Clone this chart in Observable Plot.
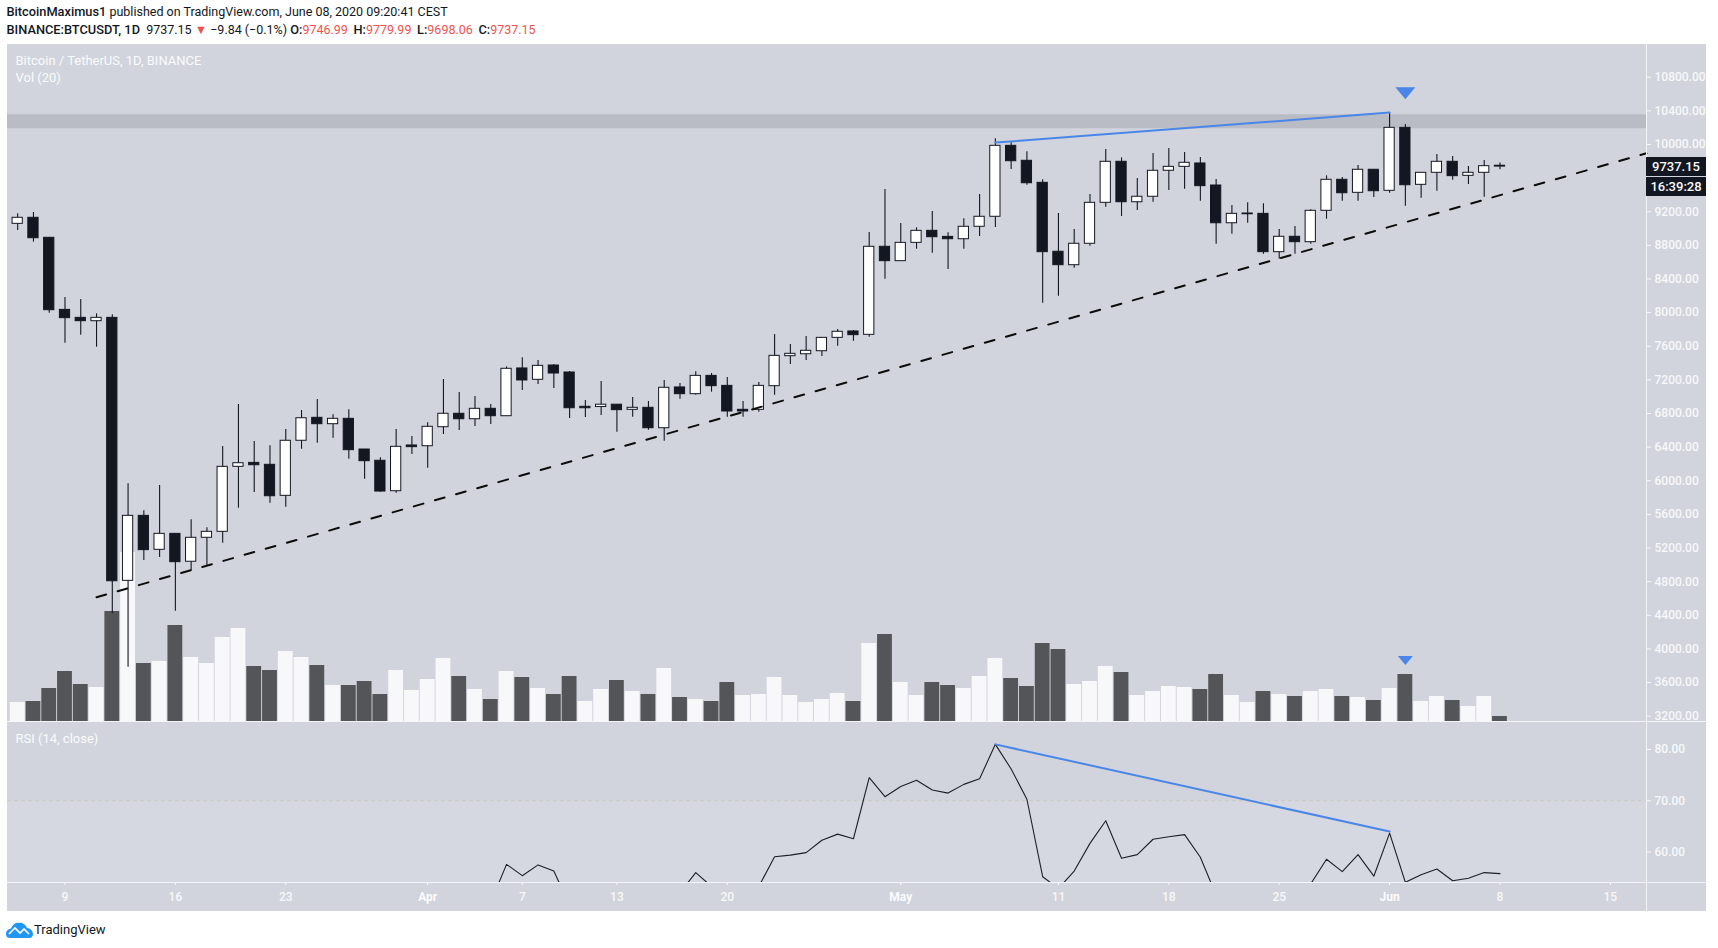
<!DOCTYPE html>
<html>
<head>
<meta charset="utf-8">
<script src="https://cdn.jsdelivr.net/npm/d3@7"></script>
<script src="https://cdn.jsdelivr.net/npm/@observablehq/plot@0.6"></script>
<style>
  html, body { margin: 0; padding: 0; background: #fff; width: 1718px; height: 948px; overflow: hidden; font-family: Roboto, sans-serif; }
  #root { position: relative; width: 1718px; height: 948px; }
  #root > * { position: absolute; }
  #panel { left: 7px; top: 44px; width: 1699px; height: 867px; background: #d1d4dc; }
  .hline { left: 7px; width: 1699px; height: 1.4px; background: #f4f5f8; }
  .vline { left: 1646px; top: 44px; width: 1.4px; height: 867px; background: #f4f5f8; }
  .head { left: 6.5px; font-size: 12.5px; color: #131722; white-space: nowrap; line-height: 16px; }
  .head b { font-weight: 500; font-size: 12.8px; }
  .head b.gap { margin-left: 2.5px; }
  .head i { font-style: normal; color: #ef5350; }
  .pane { left: 15.5px; font-size: 13px; color: #fafbfc; white-space: nowrap; line-height: 16px; }
  .tag { left: 1646px; width: 60px; height: 19px; background: #131722; color: #f8f9fb; font-size: 13px; font-weight: 500; line-height: 19px; text-align: center; }
  #brand { left: 34px; top: 922px; font-size: 13px; color: #131722; line-height: 16px; }
  svg { display: block; }
</style>
</head>
<body>
<div id="root">
  <div id="panel"></div>
  <div class="head" style="top:4px"><b>BitcoinMaximus1</b> published on TradingView.com, June 08, 2020 09:20:41 CEST</div>
  <div class="head" style="top:22px"><b>BINANCE:BTCUSDT, 1D</b>&nbsp; 9737.15 <i>▼</i> −9.84 (−0.1%) <b>O:</b><i>9746.99</i> <b class="gap">H:</b><i>9779.99</i> <b class="gap">L:</b><i>9698.06</i> <b class="gap">C:</b><i>9737.15</i></div>
  <svg id="logo" style="left:6px;top:922px" width="27" height="16" viewBox="0 0 27 16">
    <path d="M0 12 C0 8 3 7 5 6.5 C7 2 10 0 13 1 C16 0 20 3 21 6 C24 6 27 9 27 12 C27 15 25 16 23 16 L4 16 C2 16 0 15 0 12 Z" fill="#2196f3"/>
    <path d="M3 12 L9 6 L14 11 L18 7 L23 12" fill="none" stroke="#fff" stroke-width="1.6"/>
  </svg>
  <div id="brand">TradingView</div>
</div>
<script>
const firstDay = "2020-03-06";
const opens = [9056,9128,8890,8033,7938,7898,7938,4810,5583,5179,5369,5037,5322,5393,6166,6213,6190,5821,6476,6749,6673,6737,6372,6238,5876,6420,
  6411,6637,6797,6732,6856,6768,7336,7201,7371,7288,6880,6877,6905,6844,6868,6625,7110,7030,7248,7129,6844,6844,7125,7482,7505,7541,7700,7776,7736,8783,
  8612,8830,8973,8901,8873,9021,9140,9984,9806,9544,8724,8564,8819,9306,9794,9313,9378,9687,9734,9774,9512,9063,9179,9175,8719,8902,8838,9211,9580,9425,9699,
  9449,10198,9520,9663,9794,9627,9663,9747];
const highs = [9175,9191,8890,8180,8156,7986,7974,5964,5643,5943,5369,5536,5441,6408,6907,6467,6416,6610,6836,6966,6785,6844,6372,6273,6610,6527,
  6689,7204,7050,7002,6907,7355,7463,7430,7383,7300,6955,7181,6905,6990,6943,7193,7157,7296,7276,7228,6943,7169,7740,7621,7716,7700,7799,7787,8953,9464,
  9060,9009,9203,8949,9116,9405,10067,10020,9913,9580,9179,8989,9405,9940,9841,9595,9892,9952,9904,9845,9583,9274,9306,9294,8989,9024,9223,9627,9607,9750,9699,
  10380,10237,9663,9881,9857,9738,9809,9780];
const lows = [8977,8838,7993,7636,7731,7589,4418,3783,5052,5087,4449,4932,4992,5258,5674,5860,5733,5686,6375,6447,6506,6257,6019,5864,5852,6312,
  6150,6550,6598,6645,6669,6768,7074,7145,7097,6740,6752,6776,6578,6756,6601,6471,6970,7018,7054,6756,6756,6816,7018,7383,7430,7478,7601,7660,7708,8397,
  8612,8754,8707,8513,8754,8905,9012,9702,9515,8112,8196,8528,8790,9254,9143,9215,9313,9452,9468,9325,8814,8933,9063,8695,8635,8695,8814,9111,9325,9325,9369,
  9420,9266,9361,9444,9575,9524,9373,9698];
const closes = [9128,8885,8029,7934,7898,7938,4805,5583,5175,5369,5032,5322,5393,6166,6209,6185,5816,6476,6744,6673,6737,6364,6233,5872,6404,6400,
  6642,6797,6732,6856,6768,7332,7193,7367,7276,6863,6863,6905,6840,6868,6625,7106,7030,7248,7125,6824,6824,7129,7486,7510,7546,7700,7772,7732,8783,8612,
  8830,8973,8897,8873,9021,9140,9984,9801,9539,8719,8564,8819,9306,9794,9313,9378,9687,9734,9782,9504,9063,9175,9170,8719,8902,8838,9211,9580,9420,9699,9444,
  10198,9515,9663,9794,9623,9663,9742,9737];
const volumes = [19,20,33,50,37,34,110,169,58,60,96,64,58,84,93,55,51,70,64,56,36,36,40,27,51,31,
  42,63,45,32,22,50,44,33,27,45,20,32,41,30,27,53,24,22,20,39,26,27,44,26,19,22,28,20,78,87,
  39,26,39,36,33,45,63,43,35,78,72,37,40,55,49,26,30,35,34,32,47,26,19,30,27,25,30,32,25,24,21,
  33,47,20,25,21,15,25,5];
const volumeUp = [1,0,0,0,0,1,0,1,0,1,0,1,1,1,1,0,0,1,1,0,1,0,0,0,1,1,
  1,1,0,1,0,1,0,1,0,0,1,1,0,1,0,1,0,1,0,0,1,1,1,1,1,1,1,0,1,0,
  1,1,0,0,1,1,1,0,0,0,0,1,1,1,0,1,1,1,1,0,0,1,1,0,1,0,1,1,0,1,0,
  1,0,1,1,0,1,1,0];
const rsiValues = [null,null,null,null,null,null,null,null,null,null,null,null,null,null,null,null,null,null,null,null,null,null,null,null,null,null,
  null,null,null,null,50.2,57.6,55.4,57.5,56.3,49.6,null,null,null,null,null,null,52.1,56.0,53.3,null,null,53.3,59.1,59.4,59.9,62.3,63.5,62.6,74.5,70.8,
  72.8,74.0,72.1,71.5,73.2,74.3,81.0,76.2,70.3,55.2,52.9,56.3,61.7,66.1,58.8,59.5,62.5,63.0,63.4,59.0,51.6,null,null,null,null,null,53.8,58.6,56.2,59.5,55.3,
  63.7,54.1,55.6,56.7,54.4,54.9,56.0,55.8];
const priceTicks = [3200,3600,4000,4400,4800,5200,5600,6000,6400,6800,7200,7600,8000,8400,8800,9200,10000,10400,10800];
const rsiTicks = [60,70,80];
const dayTicks = ["2020-03-09","2020-03-16","2020-03-23","2020-04-07","2020-04-13","2020-04-20","2020-05-11","2020-05-18","2020-05-25","2020-06-08","2020-06-15"];
const monthTicks = ["2020-04-01","2020-05-01","2020-06-01"];
const resistance = [10187, 10353];
const trendLine = [["2020-03-11T00:00Z",4615],["2020-06-17T07:00Z",9896]];
const priceDivergence = [["2020-05-07",10022],["2020-06-01",10380]];
const rsiDivergence = [["2020-05-07",81.0],["2020-06-01",64.0]];
const lastPrice = 9737.15;
const rsiOverbought = 70;

const DAY = 864e5;
const D = s => new Date(s);
const dates = opens.map((_, i) => new Date(+D(firstDay) + i * DAY));
const candles = dates.map((date, i) => ({date, open: opens[i], high: highs[i], low: lows[i], close: closes[i],
  up: closes[i] >= opens[i], volume: volumes[i], volUp: !!volumeUp[i], rsi: rsiValues[i]}));
const xDomain = [D("2020-03-05T08:30Z"), D("2020-06-17T07:00Z")];
const ink = "#131722", blue = "#4a86e8", chalk = "#f7f8fa";
const font = "Roboto, sans-serif";
const base = {width: 1718, marginLeft: 7, marginRight: 72, marginTop: 0, marginBottom: 0,
  style: {background: "transparent", fontFamily: font, fontSize: "12px", fontWeight: 500, overflow: "visible"}};
const flatDown = {draw(c, s) { const r = Math.sqrt(s / Math.PI); c.moveTo(-r, -0.6 * r); c.lineTo(r, -0.6 * r); c.lineTo(0, 0.6 * r); c.closePath(); }};
const pts = a => a.map(([t, v]) => ({t: D(t), v}));

const volPlot = Plot.plot({...base, height: 677,
  x: {type: "utc", domain: xDomain, axis: null},
  y: {domain: [0, 677], axis: null},
  marks: [
    Plot.rectY(candles, {x1: d => +d.date - 0.47 * DAY, x2: d => +d.date + 0.47 * DAY, y1: 0, y2: "volume",
      fill: d => d.volUp ? "#f8f8fa" : "#545559"}),
    Plot.dot([{t: D("2020-06-02"), v: 61}], {x: "t", y: "v", symbol: flatDown, r: 7.5, fill: blue})
  ]
});

const pricePlot = Plot.plot({...base, height: 677,
  x: {type: "utc", domain: xDomain, axis: null},
  y: {domain: [3137, 11189], axis: null},
  marks: [
    Plot.rect([{}], {y1: resistance[0], y2: resistance[1], fill: "#b9bcc5"}),
    Plot.ruleX(candles, {x: "date", y1: "low", y2: "high", stroke: ink, strokeWidth: 1.1}),
    Plot.rect(candles, {x1: d => +d.date - 0.325 * DAY, x2: d => +d.date + 0.325 * DAY, y1: "open", y2: "close",
      fill: d => d.up ? "#ffffff" : ink, stroke: ink, strokeWidth: 1}),
    Plot.line(pts(trendLine), {x: "t", y: "v", stroke: "#0c0c0c", strokeWidth: 2, strokeDasharray: "10 12"}),
    Plot.line(pts(priceDivergence), {x: "t", y: "v", stroke: blue, strokeWidth: 2}),
    Plot.dot([{t: D("2020-06-02"), v: 10610}], {x: "t", y: "v", symbol: flatDown, r: 10, fill: blue}),
    Plot.axisY({anchor: "right", ticks: priceTicks, tickFormat: d => d.toFixed(2), tickSize: 4, tickPadding: 4, color: chalk, label: null})
  ]
});

const rsiPlot = Plot.plot({...base, height: 189, marginBottom: 29,
  x: {type: "utc", domain: xDomain, axis: null},
  y: {domain: [54.07, 85.26], axis: null},
  marks: [
    Plot.rectY([{}], {y1: 54.07, y2: rsiOverbought, fill: "#d5d8e0"}),
    Plot.ruleY([rsiOverbought], {stroke: "#c9c8c4", strokeDasharray: "4 3"}),
    Plot.line(candles, {x: "date", y: "rsi", stroke: "#1c1f28", strokeWidth: 1.1, clip: "frame"}),
    Plot.line(pts(rsiDivergence), {x: "t", y: "v", stroke: blue, strokeWidth: 2}),
    Plot.axisY({anchor: "right", ticks: rsiTicks, tickFormat: d => d.toFixed(2), tickSize: 4, tickPadding: 4, color: chalk, label: null}),
    Plot.axisX({anchor: "bottom", ticks: dayTicks.map(D), tickFormat: d => d3.utcFormat("%-d")(d), tickSize: 3, tickPadding: 7, color: chalk, label: null}),
    Plot.axisX({anchor: "bottom", ticks: monthTicks.map(D), tickFormat: d => d3.utcFormat("%b")(d), tickSize: 3, tickPadding: 7, color: "#fbfcfd", fontWeight: "bold", label: null})
  ]
});

const root = document.getElementById("root");
function place(el, top) { el.style.left = "0px"; el.style.top = top + "px"; root.appendChild(el); }
place(volPlot, 44);
place(rsiPlot, 722);
place(pricePlot, 44);
function addDiv(cls, css, text) { const e = document.createElement("div"); e.className = cls; e.style.cssText = css; if (text) e.textContent = text; root.appendChild(e); return e; }
addDiv("vline", "");
addDiv("hline", "top:721px");
addDiv("hline", "top:882px");
addDiv("pane", "top:53px", "Bitcoin / TetherUS, 1D, BINANCE");
addDiv("pane", "top:70px", "Vol (20)");
addDiv("pane", "top:731px", "RSI (14, close)");
const priceY = 44 + pricePlot.scale("y").apply(lastPrice);
addDiv("tag", `top:${priceY - 9.5}px`, lastPrice.toFixed(2));
addDiv("tag", `top:${priceY + 10.5}px`, "16:39:28");
</script>
</body>
</html>
